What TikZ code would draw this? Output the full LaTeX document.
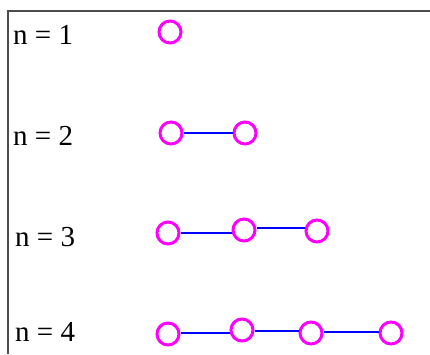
\documentclass[tikz,border=0pt]{standalone}
\usepackage{fontspec}
\setmainfont{Liberation Serif}
\definecolor{ringpink}{RGB}{255,0,255}
\definecolor{bondblue}{RGB}{0,0,255}
\begin{document}
\begin{tikzpicture}[x=1pt,y=-1pt,
  ring/.style={circle,draw=ringpink,line width=3pt,minimum size=22pt,inner sep=0pt},
  bond/.style={draw=bondblue,line width=2pt},
  lbl/.style={anchor=west,inner sep=0pt,font=\fontsize{29}{32}\selectfont}]
\useasboundingbox (0,0) rectangle (430,354);
\draw[line width=1.5pt,color=black!70] (430,11) -- (8,11) -- (8,354);
% labels
\node[lbl] (l1) at (13,35) {n = 1};
\node[lbl] (l2) at (13,136) {n = 2};
\node[lbl] (l3) at (15,237) {n = 3};
\node[lbl] (l4) at (15,332) {n = 4};
% n=1
\node[ring] (a1) at (170,32) {};
% n=2
\node[ring] (b1) at (171,133) {};
\node[ring] (b2) at (245,133) {};
\draw[bond] (b1) -- (b2);
% n=3
\node[ring] (c1) at (168,233) {};
\node[ring] (c2) at (244,230) {};
\node[ring] (c3) at (317,231) {};
\draw[bond] (c1.east) -- (c2.west |- c1.east);
\draw[bond] (c2.east |- 0,228) -- (c3.west |- 0,228);
% n=4
\node[ring] (d1) at (168,334) {};
\node[ring] (d2) at (242,330) {};
\node[ring] (d3) at (311,333) {};
\node[ring] (d4) at (391,333) {};
\draw[bond] (d1.east |- 0,333) -- (d2.west |- 0,333);
\draw[bond] (d2.east |- 0,331) -- (d3.west |- 0,331);
\draw[bond] (d3.east |- 0,332) -- (d4.west |- 0,332);
\end{tikzpicture}
\end{document}
